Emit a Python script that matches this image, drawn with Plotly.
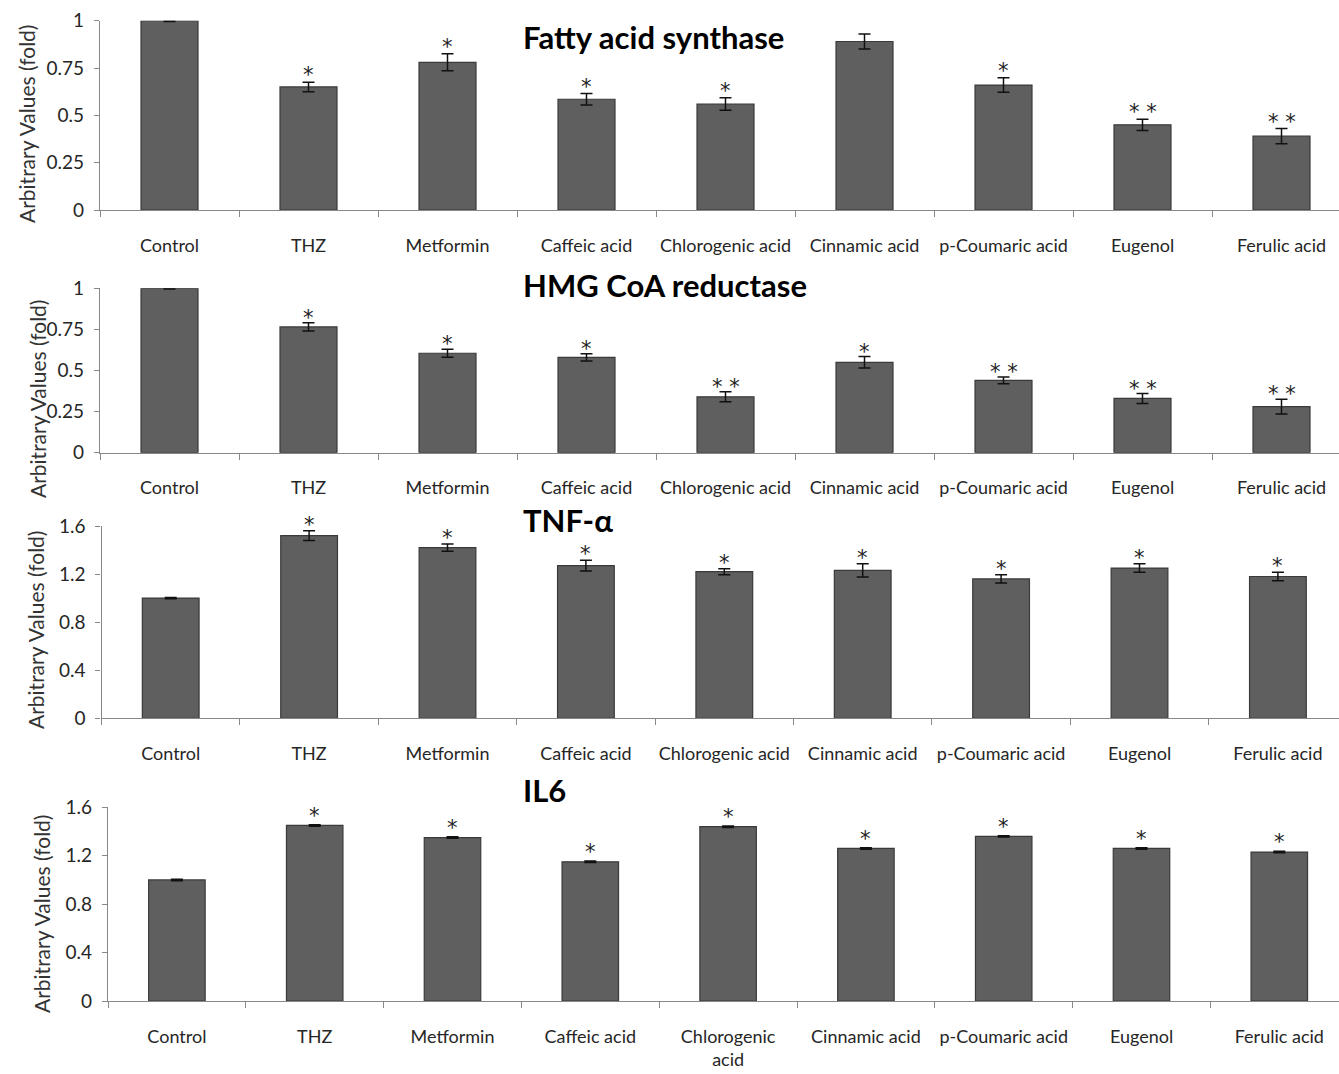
import plotly.graph_objects as go

W, H = 1339, 1074
MT, MB = 11, 11

categories = ["Control", "THZ", "Metformin", "Caffeic acid", "Chlorogenic acid",
              "Cinnamic acid", "p-Coumaric acid", "Eugenol", "Ferulic acid"]
categories_il6 = ["Control", "THZ", "Metformin", "Caffeic acid", "Chlorogenic<br>acid",
                  "Cinnamic acid", "p-Coumaric acid", "Eugenol", "Ferulic acid"]

titles = ["Fatty acid synthase", "HMG CoA reductase", "TNF-α", "IL6"]

fas_values = [1.00, 0.65, 0.78, 0.585, 0.56, 0.89, 0.66, 0.45, 0.39]
fas_errors = [0.004, 0.025, 0.045, 0.03, 0.033, 0.04, 0.038, 0.03, 0.04]
fas_stars = ["", "*", "*", "*", "*", "", "*", "* *", "* *"]

hmg_values = [1.00, 0.765, 0.605, 0.58, 0.34, 0.55, 0.44, 0.33, 0.28]
hmg_errors = [0.004, 0.025, 0.025, 0.022, 0.03, 0.035, 0.02, 0.03, 0.045]
hmg_stars = ["", "*", "*", "*", "* *", "*", "* *", "* *", "* *"]

tnf_values = [1.00, 1.52, 1.42, 1.27, 1.22, 1.23, 1.16, 1.25, 1.18]
tnf_errors = [0.005, 0.04, 0.03, 0.045, 0.025, 0.055, 0.035, 0.035, 0.035]
tnf_stars = ["", "*", "*", "*", "*", "*", "*", "*", "*"]

il6_values = [1.00, 1.45, 1.35, 1.15, 1.44, 1.26, 1.36, 1.26, 1.23]
il6_errors = [0.006, 0.006, 0.006, 0.006, 0.006, 0.006, 0.006, 0.006, 0.006]
il6_stars = ["", "*", "*", "*", "*", "*", "*", "*", "*"]

ticks_fold = [0, 0.25, 0.5, 0.75, 1]
ticktext_fold = ["0", "0.25", "0.5", "0.75", "1"]
ticks_cyt = [0, 0.4, 0.8, 1.2, 1.6]
ticktext_cyt = ["0", "0.4", "0.8", "1.2", "1.6"]

panels = [
    (categories, fas_values, fas_errors, fas_stars, ticks_fold, ticktext_fold, 1.0),
    (categories, hmg_values, hmg_errors, hmg_stars, ticks_fold, ticktext_fold, 1.0),
    (categories, tnf_values, tnf_errors, tnf_stars, ticks_cyt, ticktext_cyt, 1.6),
    (categories_il6, il6_values, il6_errors, il6_stars, ticks_cyt, ticktext_cyt, 1.6),
]

# layout geometry (pixels from the top-left of the page)
y_px = [(20.7, 210), (288.3, 452.7), (526, 718.3), (807.3, 1001)]
x_start = [100, 100, 101.5, 108]
cat_px = [139, 139, 138.4, 137.8]
title_y = [37, 285, 520, 790]
ylab_x = [27, 38, 35, 41]
ylab_y = [124, 399, 630, 914]
star_shift = [7, 5, 6, 9]


def py(p):
    return 1 - (p - MT) / (H - MT - MB)


FONT = "Lato"
fig = go.Figure()
layout = dict(
    width=W, height=H, margin=dict(l=0, r=0, t=MT, b=MB, autoexpand=False),
    paper_bgcolor="white", plot_bgcolor="white", showlegend=False,
    font=dict(family=FONT, color="#333333"),
)
annotations = []
for i, (cats, vals, errs, stars, tv, tt, ymax) in enumerate(panels):
    n = i + 1
    xa = "x" if n == 1 else f"x{n}"
    ya = "y" if n == 1 else f"y{n}"
    fig.add_trace(go.Bar(
        x=cats, y=vals, xaxis=xa, yaxis=ya, width=0.41,
        marker=dict(color="#5f5f5f", line=dict(color="#3a3a3a", width=1.2)),
        error_y=dict(type="data", array=errs, visible=True, color="#111111",
                     thickness=1.5, width=6),
    ))
    for c, v, e, s in zip(cats, vals, errs, stars):
        if s:
            annotations.append(dict(
                text=s, x=c, y=v + e, xref=xa, yref=ya, xanchor="center",
                yanchor="middle", yshift=star_shift[i], showarrow=False,
                font=dict(size=21, color="#222222", family="DejaVu Sans"),
            ))
    x0 = x_start[i]
    upper = -0.5 + (W - x0) / cat_px[i]
    layout[f"xaxis{n if n > 1 else ''}"] = dict(
        domain=[x0 / W, 1], range=[-0.5, upper], anchor=ya,
        type="category", tickson="boundaries", ticks="outside", ticklen=6,
        tickcolor="#888888", showline=True, linecolor="#888888", linewidth=1.2,
        showgrid=False, tickangle=0,
        tickfont=dict(size=18, color="#262626", family=FONT),
        ticklabelstandoff=19, fixedrange=True,
    )
    layout[f"yaxis{n if n > 1 else ''}"] = dict(
        domain=[py(y_px[i][1]), py(y_px[i][0])], range=[0, ymax],
        anchor=xa, tickvals=tv, ticktext=tt, ticks="outside", ticklen=5,
        tickcolor="#888888", showline=True, linecolor="#888888", linewidth=1.2,
        showgrid=False, zeroline=False,
        tickfont=dict(size=19, color="#262626", family=FONT),
        ticklabelstandoff=6, fixedrange=True,
    )
    annotations.append(dict(
        text=titles[i], x=521 / W, y=py(title_y[i]), xref="paper", yref="paper",
        xanchor="left", yanchor="middle", showarrow=False,
        font=dict(size=31, color="#000000", family=FONT, weight="bold"),
    ))
    annotations.append(dict(
        text="Arbitrary Values (fold)", x=ylab_x[i] / W, y=py(ylab_y[i]),
        xref="paper", yref="paper", xanchor="center", yanchor="middle",
        textangle=-90, showarrow=False,
        font=dict(size=21, color="#333333", family=FONT),
    ))

layout["annotations"] = annotations
fig.update_layout(**layout)
fig.write_html("out.html")
